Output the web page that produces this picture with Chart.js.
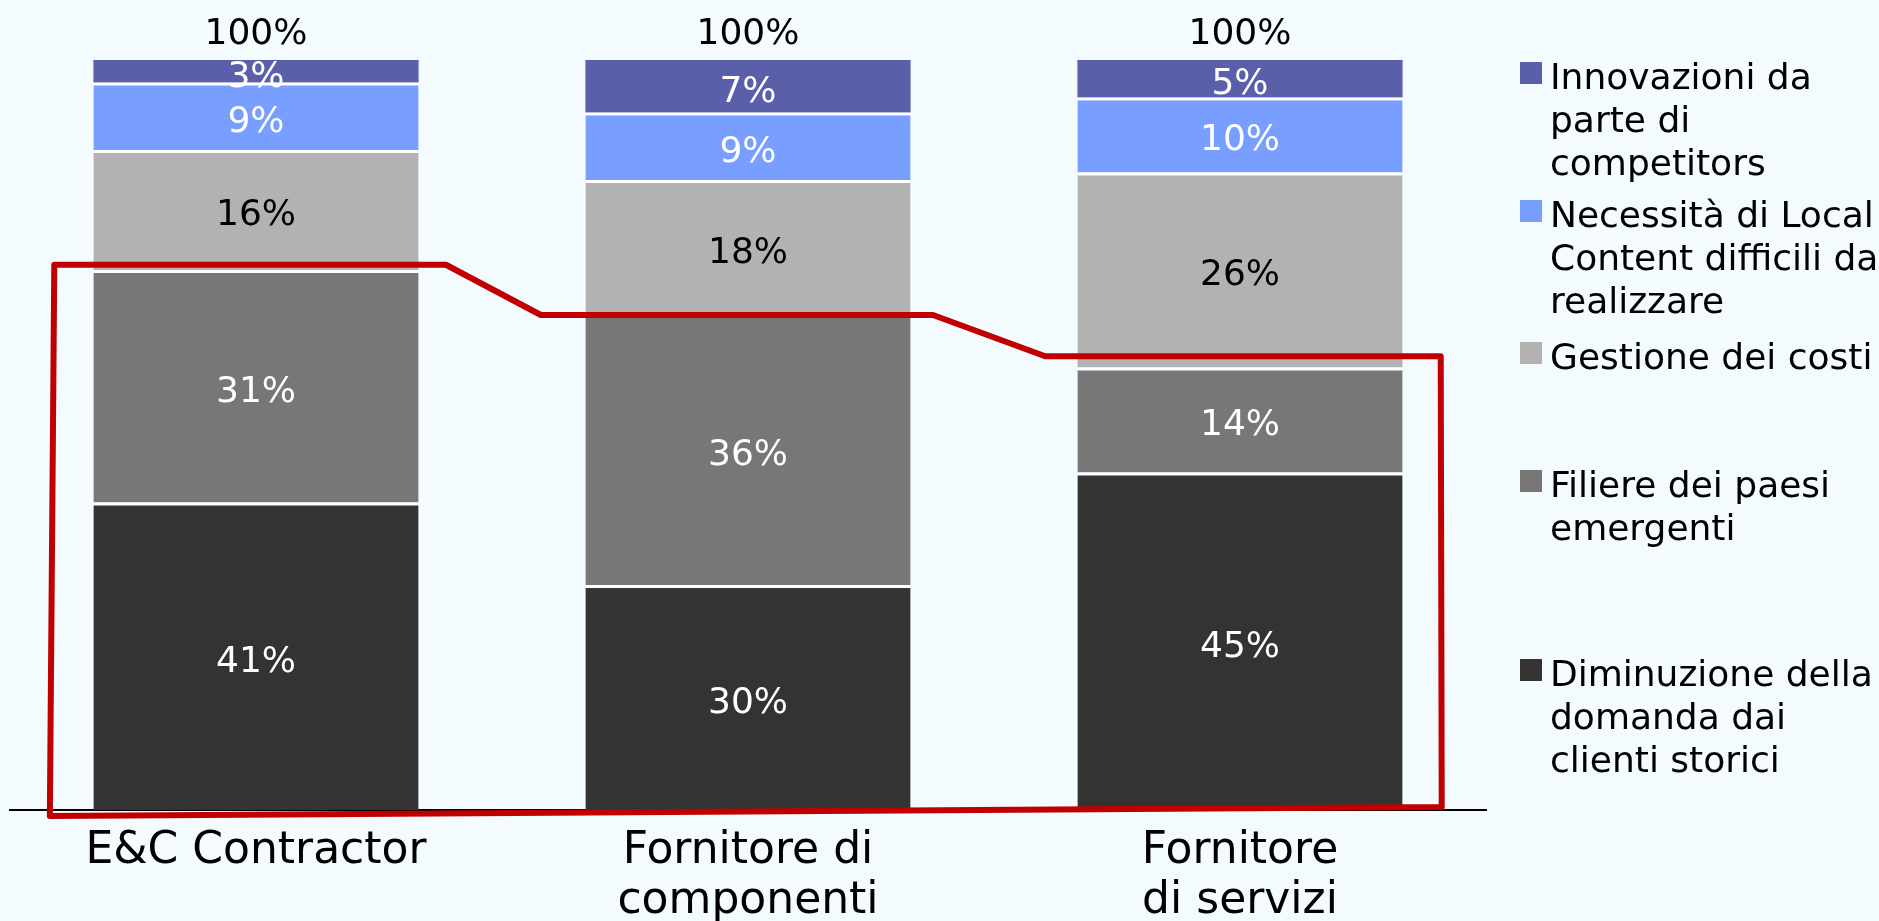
<!DOCTYPE html>
<html>
<head>
<meta charset="utf-8">
<title>Criticità per tipologia di impresa</title>
<script src="https://cdn.jsdelivr.net/npm/chart.js@4/dist/chart.umd.min.js"></script>
<style>
    body { margin: 0; background: #f4fbfe; font-family: "DejaVu Sans", sans-serif; }
    #wrap { position: relative; width: 1879px; height: 921px; }
    .legend-item { position: absolute; left: 1520px; }
    .legend-box { position: absolute; left: 0; top: 0; width: 22px; height: 22px; }
    .legend-text { position: absolute; left: 30px; top: -7px; font-size: 36px; line-height: 43px; white-space: nowrap; color: #000; }
</style>
</head>
<body>
<div id="wrap">
    <canvas id="bar-plot"></canvas>
    <div id="legend"></div>
</div>
<script>
// categories (x axis, one array per label line)
const categories = [['E&C Contractor'], ['Fornitore di', 'componenti'], ['Fornitore', 'di servizi']];

// series values in %, from the bottom of each bar up
const diminuzione = [41, 30, 45];
const filiere = [31, 36, 14];
const gestione = [16, 18, 26];
const localContent = [9, 9, 10];
const innovazioni = [3, 7, 5];

const seriesNames = [
    ['Diminuzione della', 'domanda dai', 'clienti storici'],
    ['Filiere dei paesi', 'emergenti'],
    ['Gestione dei costi'],
    ['Necessità di Local', 'Content difficili da', 'realizzare'],
    ['Innovazioni da', 'parte di', 'competitors']
];

// red box round the two lower segments: top level per bar, bottom level left / right
const highlightTop = [72.7, 66, 60.5];
const highlightBase = [-0.8, 0.4];

const series = [diminuzione, filiere, gestione, localContent, innovazioni];
const colors = ['#333333', '#777777', '#b2b2b2', '#789eff', '#5a5faa'];
const label_colors = ['#ffffff', '#ffffff', '#000000', '#ffffff', '#ffffff'];
const legend_tops = [659, 470, 342, 200, 62];

const FONT = '"DejaVu Sans", sans-serif';

// hand drawn looking box, in category units (bar i sits at x = i)
const highlightBox = {
    id: 'highlightBox',
    afterDatasetsDraw(chart) {
        const x = chart.scales.x;
        const y = chart.scales.y;
        const pts = [
            [-0.419, highlightBase[0]],
            [-0.41, highlightTop[0]],
            [0.386, highlightTop[0]],
            [0.579, highlightTop[1]],
            [1.376, highlightTop[1]],
            [1.604, highlightTop[2]],
            [2.408, highlightTop[2]],
            [2.41, highlightBase[1]]
        ];
        const ctx = chart.ctx;
        ctx.save();
        ctx.strokeStyle = '#c00000';
        ctx.lineWidth = 6;
        ctx.lineJoin = 'round';
        ctx.beginPath();
        pts.forEach((p, k) => {
            const px = x.getPixelForValue(p[0]);
            const py = y.getPixelForValue(p[1]);
            if (k === 0) ctx.moveTo(px, py);
            else ctx.lineTo(px, py);
        });
        ctx.closePath();
        ctx.stroke();
        ctx.restore();
    }
};

// value labels inside the segments + totals above each bar
const segmentLabels = {
    id: 'segmentLabels',
    afterDatasetsDraw(chart) {
        const ctx = chart.ctx;
        const area = chart.chartArea;
        ctx.save();
        ctx.font = '36px ' + FONT;
        ctx.textAlign = 'center';
        ctx.textBaseline = 'middle';
        ctx.beginPath();
        ctx.rect(area.left, area.top, area.right - area.left, area.bottom - area.top);
        ctx.clip();
        for (let i = 0; i < series.length; i++) {
            const meta = chart.getDatasetMeta(i);
            ctx.fillStyle = label_colors[i];
            meta.data.forEach((bar, j) => {
                ctx.fillText(series[i][j] + '%', bar.x, (bar.y + bar.base) / 2 + 6);
            });
        }
        ctx.restore();

        ctx.save();
        ctx.font = '36px ' + FONT;
        ctx.textAlign = 'center';
        ctx.textBaseline = 'middle';
        ctx.fillStyle = '#000000';
        const topMeta = chart.getDatasetMeta(series.length - 1);
        topMeta.data.forEach((bar, j) => {
            let total = 0;
            for (const s of series) total += s[j];
            ctx.fillText(total + '%', bar.x, bar.y - 25);
        });
        ctx.restore();
    }
};

function getDatasets() {
    let datasets = [];
    for (let i = 0; i < series.length; i++) {
        const isTop = i === series.length - 1;
        datasets.push({
            label: seriesNames[i].join(' '),
            data: series[i],
            backgroundColor: colors[i],
            borderColor: '#ffffff',
            borderWidth: isTop ? 0 : { top: 3, right: 0, bottom: 0, left: 0 },
            borderSkipped: false,
            categoryPercentage: 1,
            barPercentage: 0.661
        });
    }
    return datasets;
}

function buildLegend() {
    const legend = document.getElementById('legend');
    for (let i = 0; i < series.length; i++) {
        const item = document.createElement('div');
        item.className = 'legend-item';
        item.style.top = legend_tops[i] + 'px';
        const box = document.createElement('div');
        box.className = 'legend-box';
        box.style.background = colors[i];
        const txt = document.createElement('div');
        txt.className = 'legend-text';
        txt.innerHTML = seriesNames[i].join('<br>');
        item.appendChild(box);
        item.appendChild(txt);
        legend.appendChild(item);
    }
}

let chart = document.getElementById('bar-plot').getContext('2d');
new Chart(chart, {
    type: 'bar',
    data: {
        labels: categories,
        datasets: getDatasets()
    },
    options: {
        responsive: true,
        maintainAspectRatio: false,
        animation: false,
        layout: {
            padding: { left: 10, right: 393, top: 60, bottom: 0 }
        },
        plugins: {
            legend: { display: false },
            tooltip: { enabled: false }
        },
        scales: {
            x: {
                stacked: true,
                grid: { display: false, drawTicks: false },
                border: { display: true, color: '#000000', width: 2 },
                ticks: {
                    color: '#000000',
                    font: { family: FONT, size: 44, lineHeight: '50px' },
                    padding: 17,
                    maxRotation: 0,
                    autoSkip: false
                },
                afterFit(axis) {
                    axis.height = 111;
                }
            },
            y: {
                stacked: true,
                display: false,
                min: 0,
                max: 100
            }
        }
    },
    plugins: [highlightBox, segmentLabels]
});

buildLegend();
</script>
</body>
</html>
